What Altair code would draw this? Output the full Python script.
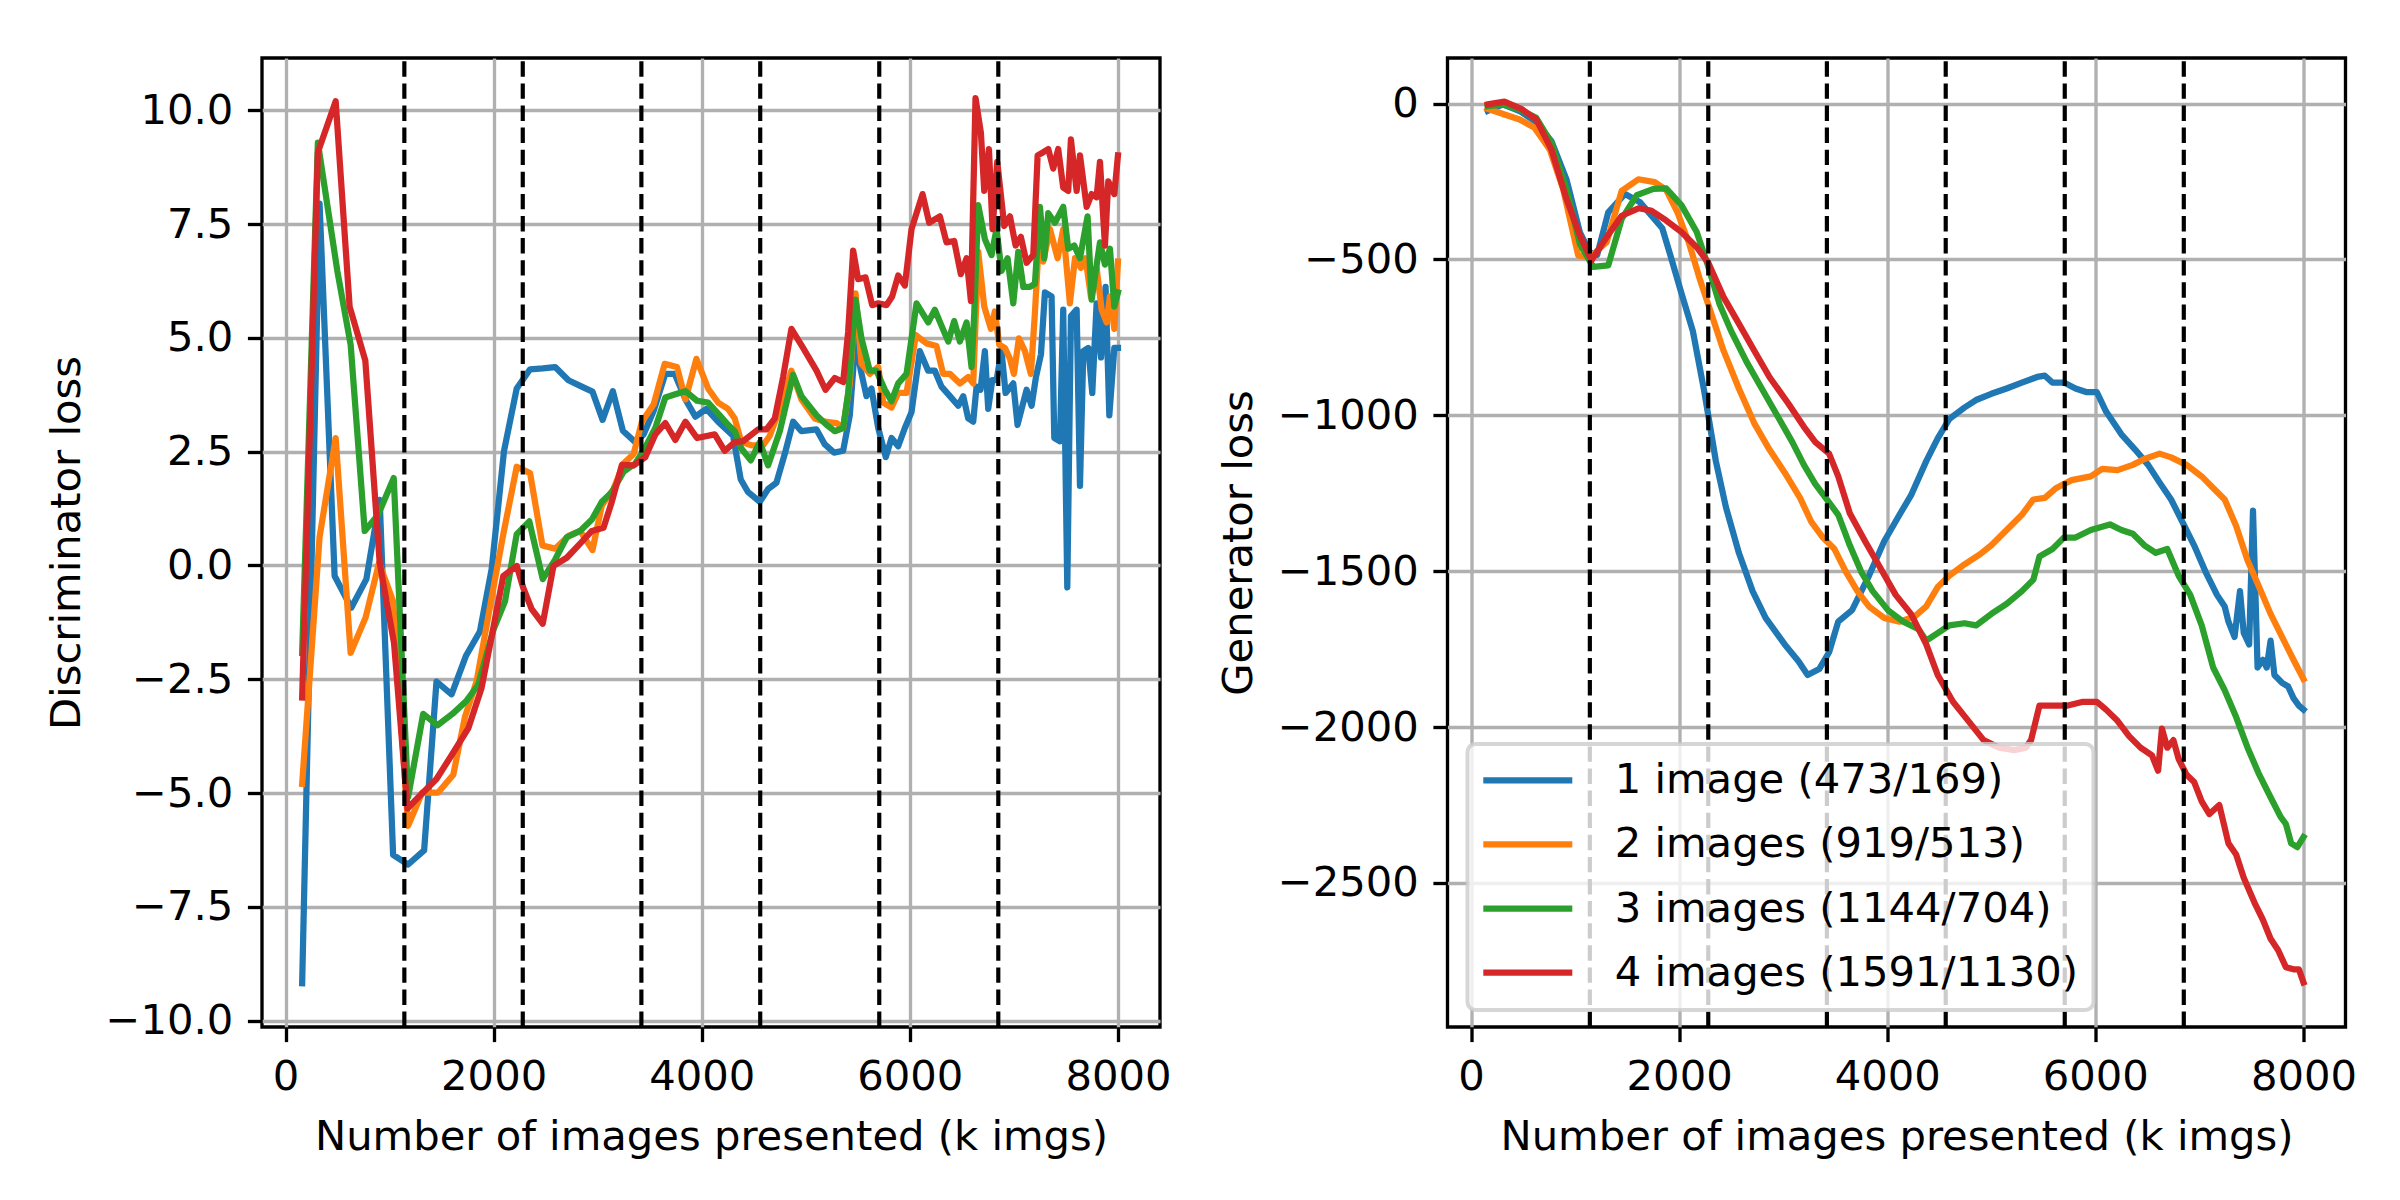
import altair as alt
import pandas as pd

SERIES = ["1 image (473/169)", "2 images (919/513)", "3 images (1144/704)", "4 images (1591/1130)"]
COLORS = ["#1f77b4", "#ff7f0e", "#2ca02c", "#d62728"]
PHASES = [1142, 2280, 3420, 4562, 5706, 6850]
X_TICKS = [0, 2000, 4000, 6000, 8000]
D_TICKS = [-10, -7.5, -5, -2.5, 0, 2.5, 5, 7.5, 10]
G_TICKS = [-2500, -2000, -1500, -1000, -500, 0]
X_TITLE = "Number of images presented (k imgs)"

# Discriminator loss (left panel), (kimg, loss)
disc_1 = [(160,-9.18),(327,7.95),(472,-0.23),(632,-0.93),(777,-0.30),(905,1.44),(1034,-6.36),(1178,-6.57),(1332,-6.26),(1451,-2.55),(1596,-2.83),(1733,-1.99),(1868,-1.45),(1981,-0.08),(2100,2.52),(2222,3.89),(2350,4.31),(2472,4.33),(2591,4.36),(2719,4.07),(2847,3.93),(2950,3.82),(3047,3.20),(3146,3.83),(3242,2.96),(3361,2.71),(3441,2.88),(3538,3.40),(3650,4.21),(3740,4.21),(3843,3.65),(3939,3.27),(4045,3.44),(4157,3.16),(4301,2.85),(4375,1.89),(4446,1.61),(4558,1.40),(4638,1.68),(4718,1.82),(4798,2.45),(4878,3.16),(4958,2.95),(5103,2.99),(5183,2.66),(5272,2.48),(5359,2.52),(5423,3.30),(5478,4.99),(5529,4.28),(5583,3.72),(5631,3.89),(5696,3.02),(5769,2.38),(5824,2.80),(5888,2.62),(5952,3.02),(6016,3.37),(6096,4.71),(6176,4.28),(6240,4.28),(6304,3.93),(6385,3.72),(6465,3.51),(6513,3.72),(6561,3.23),(6609,3.16),(6641,3.93),(6679,3.86),(6721,4.71),(6753,3.44),(6792,4.07),(6833,4.07),(6881,4.71),(6920,3.79),(6994,4.00),(7035,3.09),(7074,3.44),(7122,3.86),(7170,3.51),(7212,4.14),(7260,4.64),(7298,6.00),(7362,5.91),(7388,2.80),(7442,2.73),(7474,5.62),(7513,-0.48),(7548,5.48),(7603,5.62),(7635,1.75),(7667,4.71),(7715,4.78),(7753,3.79),(7795,5.76),(7837,4.57),(7881,6.12),(7917,3.30),(7965,4.78),(8000,4.78)]
disc_2 = [(160,-4.80),(327,0.62),(482,2.80),(626,-1.92),(770,-1.14),(899,0.06),(1034,-0.79),(1178,-5.72),(1313,-4.99),(1467,-4.99),(1612,-4.60),(1724,-3.33),(1836,-2.55),(1974,-0.79),(2093,0.69),(2222,2.17),(2350,2.03),(2469,0.44),(2591,0.37),(2719,0.65),(2831,0.76),(2950,0.34),(3040,1.32),(3152,1.68),(3249,2.24),(3345,2.45),(3425,3.16),(3538,3.54),(3644,4.43),(3762,4.36),(3843,3.65),(3949,4.54),(4061,3.89),(4157,3.58),(4253,3.44),(4317,3.23),(4381,2.71),(4478,2.64),(4590,2.64),(4654,2.85),(4750,3.44),(4862,4.28),(4958,3.65),(5087,3.23),(5183,3.16),(5295,3.13),(5359,3.02),(5423,4.00),(5478,5.98),(5535,4.43),(5615,4.21),(5696,4.36),(5744,3.58),(5824,3.47),(5888,3.79),(5968,3.79),(6058,5.06),(6160,4.88),(6256,4.82),(6320,4.21),(6385,4.21),(6481,4.00),(6561,4.14),(6609,4.00),(6657,6.89),(6715,5.69),(6779,5.20),(6817,5.58),(6859,4.85),(6913,4.78),(6962,4.54),(7000,4.21),(7048,4.99),(7106,4.71),(7163,4.21),(7202,5.55),(7234,6.89),(7282,6.68),(7346,7.39),(7420,6.75),(7474,7.39),(7538,5.76),(7587,6.75),(7644,6.54),(7689,6.75),(7740,5.91),(7795,6.54),(7843,5.62),(7891,5.34),(7923,5.91),(7965,5.20),(8000,6.68)]
disc_3 = [(160,-1.92),(311,9.29),(498,6.47),(626,4.85),(761,0.76),(889,1.11),(1040,1.92),(1178,-5.09),(1323,-3.26),(1461,-3.51),(1605,-3.26),(1740,-2.97),(1852,-2.62),(1997,-1.42),(2109,-0.79),(2222,0.69),(2343,0.97),(2472,-0.30),(2591,0.13),(2703,0.62),(2831,0.76),(2944,1.01),(3040,1.40),(3136,1.61),(3249,2.06),(3361,2.24),(3441,2.52),(3554,3.02),(3650,3.69),(3746,3.76),(3843,3.83),(3955,3.62),(4061,3.58),(4173,3.30),(4253,3.09),(4317,2.95),(4381,2.57),(4471,2.31),(4558,2.71),(4638,2.20),(4750,2.95),(4878,4.19),(4958,3.72),(5103,3.30),(5199,3.09),(5279,2.95),(5359,3.02),(5407,3.79),(5478,5.84),(5535,4.99),(5615,4.28),(5679,4.28),(5760,3.86),(5824,3.61),(5888,4.00),(5968,4.21),(6064,5.76),(6176,5.34),(6240,5.62),(6304,5.27),(6369,4.92),(6426,5.37),(6481,4.92),(6545,5.34),(6593,4.36),(6619,5.55),(6657,7.92),(6721,7.17),(6785,6.82),(6833,7.39),(6881,6.47),(6939,6.75),(6994,5.76),(7042,6.89),(7090,6.12),(7154,6.12),(7202,6.19),(7250,7.88),(7292,6.75),(7330,7.74),(7394,7.53),(7474,7.88),(7522,6.96),(7580,7.03),(7635,6.75),(7708,7.67),(7747,5.84),(7827,7.10),(7875,6.61),(7923,6.96),(7965,5.69),(8000,6.00)]
disc_4 = [(160,-2.90),(311,9.08),(482,10.20),(616,5.69),(767,4.50),(905,0.06),(1043,-1.71),(1172,-5.34),(1307,-5.02),(1451,-4.69),(1596,-4.17),(1756,-3.58),(1884,-2.69),(1981,-1.56),(2093,-0.23),(2222,-0.01),(2286,-0.50),(2366,-0.96),(2472,-1.28),(2575,-0.01),(2703,0.17),(2831,0.48),(2944,0.76),(3056,0.83),(3136,1.40),(3233,2.21),(3345,2.20),(3457,2.38),(3554,2.88),(3650,3.13),(3746,2.76),(3843,3.16),(3955,2.80),(4125,2.88),(4221,2.52),(4317,2.71),(4397,2.73),(4542,2.99),(4622,2.99),(4702,3.23),(4782,4.14),(4862,5.20),(4974,4.78),(5103,4.28),(5189,3.86),(5279,4.12),(5359,4.03),(5407,5.13),(5455,6.92),(5503,6.29),(5574,6.33),(5638,5.72),(5696,5.76),(5776,5.72),(5830,5.91),(5888,6.37),(5952,6.15),(6016,7.39),(6122,8.16),(6186,7.53),(6288,7.67),(6352,7.10),(6426,7.13),(6490,6.40),(6545,6.75),(6587,5.81),(6631,10.27),(6683,9.50),(6715,8.23),(6760,9.15),(6795,7.39),(6840,8.87),(6907,7.46),(6962,7.67),(7016,7.03),(7067,7.22),(7122,6.65),(7186,6.82),(7228,9.01),(7282,9.08),(7330,9.15),(7378,8.72),(7426,9.15),(7474,8.30),(7522,8.23),(7548,9.36),(7603,8.23),(7635,9.01),(7699,7.88),(7747,8.16),(7795,8.09),(7827,8.87),(7875,7.03),(7907,8.44),(7965,8.16),(8000,9.01)]

# Generator loss (right panel), (kimg, loss)
gen_1 = [(160,-24),(306,-3),(467,-24),(611,-56),(772,-120),(917,-243),(1046,-413),(1142,-477),(1213,-485),(1319,-349),(1480,-290),(1625,-317),(1838,-400),(1926,-498),(2022,-608),(2132,-730),(2243,-926),(2353,-1147),(2449,-1294),(2574,-1441),(2706,-1564),(2831,-1650),(3015,-1735),(3147,-1789),(3235,-1833),(3346,-1814),(3441,-1760),(3529,-1662),(3662,-1625),(3824,-1515),(3971,-1404),(4118,-1319),(4228,-1257),(4375,-1147),(4485,-1074),(4596,-1012),(4743,-975),(4853,-951),(5000,-931),(5147,-914),(5294,-895),(5441,-877),(5515,-873),(5588,-895),(5699,-895),(5809,-914),(5919,-926),(6015,-926),(6103,-988),(6250,-1061),(6382,-1110),(6507,-1159),(6618,-1216),(6728,-1270),(6838,-1343),(6949,-1417),(7059,-1502),(7169,-1576),(7243,-1613),(7279,-1662),(7338,-1711),(7390,-1564),(7426,-1698),(7478,-1735),(7515,-1306),(7559,-1809),(7610,-1784),(7647,-1809),(7684,-1723),(7721,-1833),(7794,-1858),(7853,-1870),(7904,-1907),(7956,-1931),(8000,-1944)]
gen_2 = [(160,-17),(322,-35),(467,-51),(611,-78),(756,-147),(885,-274),(1030,-487),(1142,-493),(1303,-445),(1448,-280),(1609,-243),(1765,-252),(1875,-277),(1985,-350),(2096,-449),(2206,-571),(2316,-681),(2426,-792),(2574,-914),(2721,-1025),(2868,-1110),(3015,-1184),(3162,-1265),(3272,-1343),(3382,-1392),(3493,-1429),(3603,-1502),(3713,-1564),(3824,-1613),(3971,-1650),(4118,-1662),(4265,-1645),(4375,-1613),(4485,-1551),(4596,-1515),(4743,-1478),(4890,-1446),(5000,-1417),(5147,-1368),(5294,-1319),(5404,-1270),(5515,-1265),(5625,-1233),(5772,-1208),(5956,-1196),(6066,-1172),(6213,-1176),(6360,-1159),(6471,-1140),(6618,-1123),(6728,-1135),(6875,-1159),(7022,-1196),(7132,-1233),(7243,-1270),(7353,-1355),(7463,-1466),(7574,-1551),(7684,-1637),(7794,-1711),(7904,-1784),(8000,-1846)]
gen_3 = [(160,-9),(306,-3),(467,-19),(627,-46),(772,-126),(917,-274),(1046,-450),(1174,-524),(1319,-519),(1448,-370),(1593,-294),(1754,-274),(1875,-272),(2022,-326),(2169,-412),(2279,-522),(2390,-645),(2500,-730),(2647,-828),(2794,-914),(2941,-1000),(3088,-1086),(3199,-1159),(3309,-1221),(3419,-1270),(3529,-1319),(3640,-1417),(3750,-1502),(3860,-1564),(4007,-1625),(4154,-1662),(4301,-1686),(4375,-1723),(4485,-1699),(4596,-1674),(4743,-1667),(4853,-1674),(5000,-1637),(5147,-1605),(5294,-1564),(5404,-1527),(5463,-1453),(5588,-1429),(5699,-1392),(5809,-1392),(5956,-1368),(6140,-1350),(6250,-1368),(6360,-1380),(6471,-1417),(6581,-1441),(6691,-1429),(6801,-1515),(6912,-1576),(7022,-1674),(7132,-1809),(7243,-1882),(7353,-1968),(7463,-2066),(7574,-2152),(7684,-2225),(7779,-2287),(7831,-2311),(7882,-2373),(7941,-2385),(8000,-2353)]
gen_4 = [(160,-3),(322,6),(483,-17),(627,-51),(772,-147),(917,-306),(1046,-423),(1158,-503),(1303,-429),(1448,-360),(1609,-336),(1728,-343),(1875,-375),(2022,-412),(2169,-461),(2279,-510),(2426,-620),(2574,-706),(2721,-792),(2868,-877),(3051,-963),(3199,-1037),(3309,-1086),(3441,-1123),(3529,-1196),(3640,-1314),(3787,-1404),(3934,-1490),(4081,-1576),(4228,-1637),(4375,-1735),(4485,-1833),(4632,-1919),(4779,-1980),(4926,-2042),(5074,-2066),(5221,-2074),(5331,-2066),(5382,-2042),(5463,-1931),(5588,-1931),(5735,-1931),(5882,-1919),(6015,-1919),(6103,-1944),(6213,-1980),(6324,-2029),(6434,-2066),(6544,-2091),(6603,-2140),(6640,-2005),(6691,-2066),(6750,-2042),(6801,-2103),(6875,-2152),(6949,-2176),(7022,-2238),(7096,-2279),(7191,-2250),(7279,-2373),(7353,-2409),(7426,-2483),(7537,-2569),(7610,-2618),(7684,-2679),(7757,-2716),(7831,-2770),(7904,-2777),(7956,-2777),(8000,-2819)]

W, H = 898, 969
FS = 41.7
FONT = "DejaVu Sans"
X_DOMAIN = [-226, 8404]


def frame(series_lists):
    rows = []
    for name, pts in zip(SERIES, series_lists):
        for i, (x, y) in enumerate(pts):
            rows.append({"series": name, "x": x, "y": y, "i": i})
    return pd.DataFrame(rows)


def axis_common(**kw):
    return alt.Axis(
        grid=True, gridColor="#b0b0b0", gridWidth=3.33, gridOpacity=1,
        domain=False, ticks=True, tickSize=14.6, tickWidth=3.33, tickColor="black",
        labelFont=FONT, labelFontSize=FS, labelColor="black", labelPadding=14.6,
        labelFlush=False, labelOverlap=False, labelBound=False,
        titleFont=FONT, titleFontSize=FS, titleFontWeight="normal", titleColor="black",
        titleBaseline="alphabetic", **kw)


x_axis = axis_common(values=X_TICKS, format="d", title=X_TITLE,
                     titleX=W / 2, titleY=122, titleAlign="center")


def panel(df, ydomain, yvals, yfmt, ytitle, title_x, legend):
    y_axis = axis_common(values=yvals, format=yfmt, title=ytitle, titleAngle=270,
                         titleX=title_x, titleY=H / 2, titleAlign="center")
    xs = alt.Scale(domain=X_DOMAIN, nice=False, zero=False)
    ys = alt.Scale(domain=ydomain, nice=False, zero=False)
    lines = alt.Chart(df).mark_line(
        strokeWidth=6.25, strokeCap="square", strokeJoin="round", clip=True
    ).encode(
        x=alt.X("x:Q", scale=xs, axis=x_axis),
        y=alt.Y("y:Q", scale=ys, axis=y_axis),
        color=alt.Color("series:N", scale=alt.Scale(domain=SERIES, range=COLORS), legend=legend),
        order="i:Q",
    )
    rules = alt.Chart(pd.DataFrame({"x": PHASES})).mark_rule(
        color="black", strokeWidth=4.17, strokeDash=[15.4, 6.7], strokeCap="butt"
    ).encode(
        x=alt.X("x:Q", scale=xs, axis=x_axis),
        y=alt.value(H), y2=alt.value(0),
    )
    return alt.layer(lines, rules).properties(width=W, height=H)


left = panel(frame([disc_1, disc_2, disc_3, disc_4]), [-10.14, 11.15], D_TICKS, ".1f",
             "Discriminator loss", -183, None)

# legend swatch: a horizontal line 89 px long drawn by a custom symbol path
legend = alt.Legend(
    title=None, orient="none", legendX=20, legendY=686,
    symbolType="M-2.9667,0L2.9667,0", symbolSize=900, symbolStrokeWidth=6.25,
    symbolOffset=24,
    labelFont=FONT, labelFontSize=FS, labelColor="black", labelLimit=2000, labelOffset=66,
    rowPadding=21.1, padding=15.45, fillColor="rgba(255,255,255,0.8)",
    strokeColor="rgba(204,204,204,0.8)", cornerRadius=8,
)
right = panel(frame([gen_1, gen_2, gen_3, gen_4]), [-2962, 146], G_TICKS, "d",
              "Generator loss", -196.5, legend)

chart = alt.hconcat(left, right, spacing=287.5, bounds="flush").resolve_scale(
    color="independent").resolve_legend(color="independent").properties(
    padding={"left": 36, "top": 46, "right": 5, "bottom": 5}
).configure_view(stroke="black", strokeWidth=3.33).configure_legend(strokeWidth=4)

chart.save("out.html", embed_options={"renderer": "svg", "actions": False})
